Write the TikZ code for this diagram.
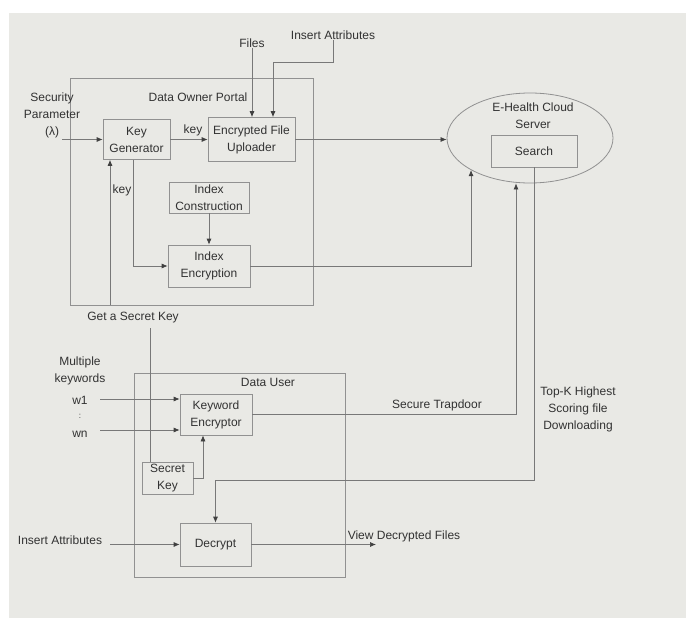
\documentclass[tikz,border=0pt]{standalone}
\usepackage{fontspec}
\setmainfont{Liberation Sans}
\usetikzlibrary{arrows.meta,shapes.geometric}
\definecolor{bg}{RGB}{233,233,229}
\definecolor{ln}{RGB}{120,120,120}
\definecolor{bx}{RGB}{145,145,145}
\definecolor{tx}{RGB}{50,50,50}
\begin{document}
\begin{tikzpicture}[x=1pt,y=-1pt,
  font=\fontsize{12}{17}\selectfont, text=tx,
  box/.style={draw=bx, line width=0.7pt, align=center, inner sep=0pt},
  lbl/.style={align=center, inner sep=0pt},
  line/.style={draw=ln, line width=0.7pt},
  arr/.style={line, -{Latex[length=6pt,width=5pt,color=black!75]}}]
\fill[white] (0,0) rectangle (691,618);
\fill[bg] (9,13) rectangle (686,618);
\useasboundingbox (0,0) rectangle (691,618);

% containers
\node[box, minimum width=243pt, minimum height=227pt] (portal) at (191.5,191.5) {};
\node[box, minimum width=211pt, minimum height=204pt] (user) at (239.5,475) {};

% boxes
\node[box, minimum width=67pt, minimum height=40pt] (keygen) at (136.5,139.5) {Key\\Generator};
\node[box, minimum width=87pt, minimum height=44pt] (upl) at (251.5,139.5) {Encrypted File\\Uploader};
\node[box, minimum width=80pt, minimum height=31pt] (idxc) at (209,197.5) {Index\\Construction};
\node[box, minimum width=82pt, minimum height=42pt] (idxe) at (209,266) {Index\\Encryption};
\node[draw=bx, line width=0.8pt, ellipse, minimum width=166pt, minimum height=90pt, inner sep=0pt] (cloud) at (530,138) {};
\node[box, minimum width=86pt, minimum height=32pt] (search) at (534,151) {Search};
\node[box, minimum width=72pt, minimum height=41pt] (kwe) at (216,414.5) {Keyword\\Encryptor};
\node[box, minimum width=51pt, minimum height=32pt] (sk) at (167.5,478) {Secret\\Key};
\node[box, minimum width=71pt, minimum height=43pt] (dec) at (215.5,544.5) {Decrypt};

% labels
\node[lbl] (secp) at (52,115) {Security\\Parameter\\(λ)};
\node[lbl] (dop) at (198,97) {Data Owner Portal};
\node[lbl] (files) at (252,43) {Files};
\node[lbl] (ia1) at (333,35) {Insert Attributes};
\node[lbl] (k1) at (193,130) {key};
\node[lbl] (k2) at (122,190) {key};
\node[lbl] (cloudt) at (533,116) {E-Health Cloud\\Server};
\node[lbl] (gsk) at (133,318) {Get a Secret Key};
\node[lbl] (mk) at (80,371) {Multiple\\keywords};
\node[lbl] (w1) at (80,400) {w1};
\node[lbl, font=\fontsize{8}{9}\selectfont] (dots) at (80,416) {:};
\node[lbl] (wn) at (80,434) {wn};
\node[lbl] (du) at (268,382) {Data User};
\node[lbl] (st) at (437,405) {Secure Trapdoor};
\node[lbl] (tk) at (578,409) {Top-K Highest\\Scoring file\\Downloading};
\node[lbl] (ia2) at (60,540) {Insert Attributes};
\node[lbl] (vdf) at (404,536) {View Decrypted Files};

% free ends
\coordinate (spin) at (62,139.5);
\coordinate (iat) at (273,62);
\coordinate (tkt) at (534,480);
\coordinate (w1in) at (100,399);
\coordinate (wnin) at (100,430);
\coordinate (gskl) at (150,328);
\coordinate (iain) at (110,544.5);
\coordinate (vdfout) at (376,544.5);

% connectors
\draw[arr] (spin) -- (keygen.west);
\draw[arr] (keygen.east) -- (upl.west);
\draw[arr] (files.south) -- (files.south |- upl.north);
\draw[arr] (ia1.south) |- (iat) -- (iat |- upl.north);
\draw[arr] (portal.south -| 110,0) -- (keygen.south -| 110,0);
\draw[arr] ([xshift=-3.5pt]keygen.south) |- (idxe.west);
\draw[arr] (idxc.south) -- (idxe.north);
\draw[arr] (idxe.east) -| (cloud.south west);
\draw[arr] (upl.east) -- (upl.east -| cloud.west);
\draw[arr] (kwe.east) -| ([xshift=-14pt]cloud.south);
\draw[arr] (search.south) -- (tkt) -| (dec.north);
\draw[arr] (w1in) -- (kwe.west |- w1in);
\draw[arr] (wnin) -- (kwe.west |- wnin);
\draw[arr] (sk.east) -| ([xshift=-13pt]kwe.south);
\draw[line] (gskl) -- (gskl |- sk.north);
\draw[arr] (iain) -- (dec.west);
\draw[arr] (dec.east) -- (vdfout);
\end{tikzpicture}
\end{document}
